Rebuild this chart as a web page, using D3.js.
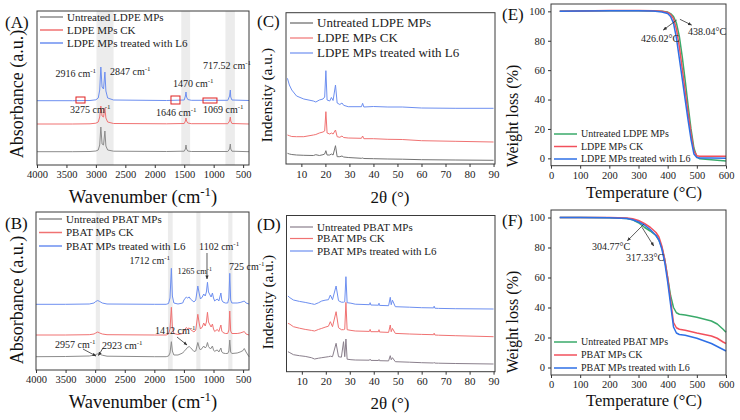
<!DOCTYPE html>
<html><head><meta charset="utf-8">
<script src="https://cdn.jsdelivr.net/npm/d3@7"></script>
<style>body{margin:0;background:#fff} svg text{font-family:"Liberation Serif",serif !important}</style>
</head><body>
<script>
// ---------------- DATA ----------------
// (A) FTIR LDPE
const ftirLdpeWn = [4000,3400,3100,3000,2960,2935,2916,2895,2870,2847,2830,2800,2700,1800,1500,1480,1470,1460,1440,1380,760,730,717,710,690,400];
const ftirLdpeUntreated = [13.3,13.3,13.5,14,15,20,38,21,20,34,19,15,13.8,13.5,13.8,16,20,16,14,13.5,13.5,16,21,16,13.8,13.3];
const ftirLdpeCK = [41,41,41.2,41.8,43,48,59,49,48,57,47,43,41.5,41.2,41.5,44,47,44,42,41.3,41.3,44,48,44,41.5,41];
const ftirLdpeL6 = [64.3,64.3,64.5,65.2,67,75,98,78,76,93,74,67,65,64.5,65,69,73,68,65.5,64.7,64.7,69,75,68,65,64.5];
const ftirLdpeBands = [[2990,2700],[1550,1400],[800,640]];
const ftirLdpeBoxes = [[3338,3185,68,62],[1725,1572,69,61],[1181,944,67,62]];
const ftirLdpeNotes = [[2998,88,"2916 ","end"],[2760,90,"2847 ","start"],[1691,78,"1470 ","start"],[1181,96,"717.52 ","start"],[3440,52,"3275 ","start"],[1979,49,"1646 ","start"],[1181,52,"1069 ","start"]];

// (B) FTIR PBAT
const ftirPbatWn = [4000,3500,3100,3020,2990,2957,2923,2880,2800,2000,1800,1760,1735,1712,1695,1670,1600,1520,1500,1460,1440,1410,1390,1330,1300,1265,1240,1220,1190,1165,1140,1120,1102,1085,1050,1040,1018,1000,980,960,935,910,875,860,840,800,760,740,725,710,690,600,550,500,480,450,400];
const ftirPbatL6 = [65.7,65.7,66,67,68.5,69.5,68.5,67,66,65.7,65.7,66.5,72,101.7,74,67,66,67,70,73,72,73,71,68,70,84,76,71,73,76,74,78,87.7,78,74,73,77,72,69,70,71,69,77,70,68,67,67,72,96.7,70,67,67,67.5,68.5,69,67,66];
const ftirPbatCK = [35,35,35.3,36,37,38,37,36,35.3,35,35,36,41,62.7,43,36.5,35.5,36.5,39,42.5,41.5,42,40.5,38,40,55.7,46,41,43,47,44,48,57.7,48,44,43,46,41,38.5,39.5,40.5,38.5,45,39,37.5,36.5,36.5,40,59,39,36.5,36.5,37,38,38.5,36,35];
const ftirPbatUntreated = [13.3,13.5,14,14.8,15.5,16.2,15.8,14.8,13.8,13.3,13.3,14,17,28.3,19,15,15,17,18.5,21,22.5,23.5,22.5,18.5,19,27.5,22,20,22,24,22,23.5,27.5,23.5,21,22,24,20,18.5,19.5,20,18,22,18,17,16.5,16.5,19,30,18,16.5,17,18,19.5,21.5,18,13.3];
const ftirPbatBands = [[2990,2920],[1770,1690],[1290,1220],[750,680]];
const ftirPbatNotes = [[1735,106.5,"1712 ","end",10],[1610,96,"1265 ","start",8.5],[1245,120,"1102 ","start",10],[738,100,"725 ","start",10],[3679,22,"2957 ","start",10],[2885,21,"2923 ","start",10],[1989,36,"1412 ","start",10]];
const ftirPbatArrows = [[1110,117,1110,91],[3206,21,2986,14],[2868,22,2944,14.5],[1617,33,1448,25]];

// (C) XRD LDPE
const xrdLdpeTheta = [4.2,5,6,8,11,15,16,17.5,19,19.7,20.2,20.7,21.8,22.5,23.2,24.2,24.9,26,26.9,27.6,29.5,35,35.5,36,40,46,52,60,74,90];
const xrdLdpeL6 = [85.7,79,74,68,65,63,62,64,65,67,93.3,64,63,66.5,63.5,79,61,59.5,61,58.7,57.3,57.3,60.7,57,57.5,57,57,56,55.7,55.7];
const xrdLdpeCK = [29,28.3,27.5,27.3,27.3,29,29.5,31,32,33,52.3,31,30,31,30,34,27.3,26.7,28,26.5,26,25.7,28,25.3,25.3,24.7,24.5,23.3,22.7,22];
const xrdLdpeUntreated = [10.7,10,9.5,9,8.7,8.5,9.3,8.5,9.3,10,13.3,9,9,10,9,18.3,7.3,7.3,8,7,6.5,5.7,6,5.5,5.3,5,4.8,4.3,4,3.7];

// (D) XRD PBAT
const xrdPbatTheta = [4.2,5,6.5,9,11.4,14,15.3,17,18.3,19.7,21.1,21.9,22.8,24.3,25.3,26.5,27.4,27.9,28.4,28.9,30.5,32.3,38.2,38.5,38.8,42,42.2,42.4,46.2,46.9,47.3,47.8,49,55,60,65,65.2,65.5,67,74,90];
const xrdPbatL6 = [75.7,74,71.7,70.3,69.3,68,67.3,69,70.7,71.5,72,76.7,72,85.7,71,69.5,69.5,70,95,69,68.5,67.5,67,69,66.7,66.5,68.5,66.3,66,74.4,67,71.5,65,64.5,64,63.8,65.5,63.5,63.3,63,62.7];
const xrdPbatCK = [48.4,47.5,45,43.5,42.3,41.3,40.7,42.3,43.3,44.5,45.5,50,45,60,44,42,42,42.5,69.4,42,41.3,40.7,40.3,42.3,40,40,42,39.7,39.3,46.7,40,43.3,38.3,37.7,37.3,37,38.5,36.7,36.5,36,35];
const xrdPbatUntreated = [20,19,17,16,15.3,14,12.7,13.5,14,14.5,15,15.5,15,28.4,15,14.5,30,15,32.7,12.5,12,11.7,11.5,12.5,11.3,11.2,12.2,11,10.8,16,12,14,10,9.5,9,8.7,9.3,8.6,8.5,8.2,7.7];

// (E) TGA LDPE
const tgaLdpeT = [30,100,200,300,350,380,400,410,420,430,440,450,460,470,480,490,500,510,550,600];
const tgaLdpeUntreated = [100,100.2,100.4,100.4,100.3,100,99.5,98.5,96.5,92,83,69,53,36,20,7,1,-0.3,-1,-1.8];
const tgaLdpeCK = [100,100.2,100.5,100.6,100.4,100,99.3,98,95,88,76,61,46,31,17,5,1.8,1.5,1.5,1.5];
const tgaLdpeL6 = [100,100.2,100.4,100.4,100.2,99.6,98.5,96.5,92,82,68,54,40,26,13,3,0.5,0.3,0.2,0];
const tgaLdpeNotes = [[431,94.1,385,87.3,"426.02°C"],[442,94.6,482,90.7,"438.04°C"]];

// (F) TGA PBAT
const tgaPbatT = [30,100,200,260,280,300,320,340,360,370,380,390,400,410,420,430,440,460,500,550,570,590,600];
const tgaPbatUntreated = [100,100,99.8,99.3,98.5,96.5,93.5,91,88,85,80,72,60,48,40,36.5,35.5,35,33.5,31,29,25.5,23.5];
const tgaPbatCK = [100,100,100,99.7,99.2,98,96,93.5,90,87,81,72,60,45,30,26.5,25.5,24.8,23,21,19.5,17,16];
const tgaPbatL6 = [100,100,99.8,99.3,98.5,97,95,92,88,85,79,70,57,42,27,23,22,21.5,19.5,16,14,12,11];
const tgaPbatNotes = [[318,95.5,262,84.5,"304.77°C"],[312,93.5,352,81,"317.33°C"]];

const ftirTicks = [4000,3500,3000,2500,2000,1500,1000,500];
const xrdTicks = [10,20,30,40,50,60,70,80,90];
const tgaXTicks = [0,100,200,300,400,500,600];
const tgaYTicks = [0,20,40,60,80,100];

// ---------------- DRAWING ----------------
const FONT = 'Liberation Serif, serif';
const svg = d3.select('body').append('svg').attr('width',740).attr('height',420)
  .attr('font-family', FONT);
svg.append('rect').attr('width',740).attr('height',420).attr('fill','#fff');
const defs = svg.append('defs');
defs.append('marker').attr('id','arr').attr('viewBox','0 0 10 10').attr('refX',9).attr('refY',5)
  .attr('markerWidth',5).attr('markerHeight',5).attr('orient','auto')
  .append('path').attr('d','M0,1 L10,5 L0,9 Z').attr('fill','#333');

const C = {fgray:'#8c8c8c', fred:'#f07272', fblue:'#6d8ff0', dgray:'#8a7f8c', cgray:'#737373',
           tgreen:'#3aaa6a', tred:'#f2505c', tblue:'#2e6fe6'};
const fmt = d3.format('d');

function panel(left,right,top,bottom,xd,yd){
  return {left,right,top,bottom,
    x:d3.scaleLinear().domain(xd).range([left,right]),
    y:d3.scaleLinear().domain(yd).range([bottom,top])};
}
function frame(p){
  svg.append('rect').attr('x',p.left).attr('y',p.top).attr('width',p.right-p.left)
    .attr('height',p.bottom-p.top).attr('fill','none').attr('stroke','#3a3a3a').attr('stroke-width',1);
}
function xAxis(p,ticks,fs){
  const g = svg.append('g').attr('transform',`translate(0,${p.bottom})`)
    .call(d3.axisBottom(p.x).tickValues(ticks).tickFormat(fmt).tickSize(3).tickSizeOuter(0).tickPadding(3));
  g.select('.domain').remove();
  g.attr('font-family',FONT).attr('font-size',fs);
  g.selectAll('text').attr('fill','#222');
  g.selectAll('line').attr('stroke','#333');
}
function yAxis(p,ticks,fs){
  const g = svg.append('g').attr('transform',`translate(${p.left},0)`)
    .call(d3.axisLeft(p.y).tickValues(ticks).tickFormat(fmt).tickSize(3).tickSizeOuter(0).tickPadding(3));
  g.select('.domain').remove();
  g.attr('font-family',FONT).attr('font-size',fs);
  g.selectAll('text').attr('fill','#222');
  g.selectAll('line').attr('stroke','#333');
}
function curve(p,xs,ys,color,w){
  const line = d3.line().x(d=>p.x(d[0])).y(d=>p.y(d[1]));
  svg.append('path').datum(d3.zip(xs,ys)).attr('d',line).attr('fill','none')
    .attr('stroke',color).attr('stroke-width',w).attr('stroke-linejoin','round');
}
function bands(p,list){
  list.forEach(b=>{
    const x0=p.x(b[0]), x1=p.x(b[1]);
    svg.append('rect').attr('x',Math.min(x0,x1)).attr('y',p.top).attr('width',Math.abs(x1-x0))
      .attr('height',p.bottom-p.top).attr('fill','#ececec');
  });
}
function legend(x,ys,items,fs,lw){
  items.forEach((it,i)=>{
    svg.append('line').attr('x1',x).attr('x2',x+23).attr('y1',ys[i]).attr('y2',ys[i])
      .attr('stroke',it[1]).attr('stroke-width',lw);
    svg.append('text').attr('x',x+27).attr('y',ys[i]).attr('dy','0.34em').attr('font-size',fs)
      .attr('fill','#222').text(it[0]);
  });
}
function cmText(t,prefix,suffix){
  t.append('tspan').text(prefix+'cm');
  t.append('tspan').attr('baseline-shift','super').attr('font-size','70%').text('-1');
  if(suffix) t.append('tspan').text(suffix);
}
function label(x,y,txt,fs,opts={}){
  const t = svg.append('text').attr('x',x).attr('y',y).attr('font-size',fs).attr('fill','#111')
    .attr('text-anchor',opts.anchor||'middle');
  if(opts.rot) t.attr('transform',`rotate(-90,${x},${y})`);
  if(opts.cm) cmText(t,txt,')'); else t.text(txt);
  return t;
}

// ---- Panel A ----
const pA = panel(37,249,11,165,[4000,400],[0,154]);
bands(pA,ftirLdpeBands);
curve(pA,ftirLdpeWn,ftirLdpeUntreated,C.fgray,1);
curve(pA,ftirLdpeWn,ftirLdpeCK,C.fred,1);
curve(pA,ftirLdpeWn,ftirLdpeL6,C.fblue,1);
frame(pA); xAxis(pA,ftirTicks,10.5);
legend(40,[17,30,43],[["Untreated LDPE MPs",C.fgray],["LDPE MPs CK",C.fred],["LDPE MPs treated with L6",C.fblue]],11,1.5);
ftirLdpeBoxes.forEach(b=>{
  svg.append('rect').attr('x',pA.x(b[0])).attr('y',pA.y(b[2])).attr('width',pA.x(b[1])-pA.x(b[0]))
    .attr('height',pA.y(b[3])-pA.y(b[2])).attr('fill','none').attr('stroke','#e02020').attr('stroke-width',1);
});
ftirLdpeNotes.forEach(n=>{
  const t = svg.append('text').attr('x',pA.x(n[0])).attr('y',pA.y(n[1])).attr('font-size',10)
    .attr('text-anchor',n[3]).attr('fill','#222');
  cmText(t,n[2]);
});
label(143,203,"Wavenumber (",18.5,{cm:true});
label(23,94,"Absorbance (a.u.)",18,{rot:true});
label(5,28,"(A)",17,{anchor:'start'});

// ---- Panel B ----
const pB = panel(36,249,212,370,[4000,400],[0,158]);
bands(pB,ftirPbatBands);
curve(pB,ftirPbatWn,ftirPbatUntreated,C.fgray,1);
curve(pB,ftirPbatWn,ftirPbatCK,C.fred,1);
curve(pB,ftirPbatWn,ftirPbatL6,C.fblue,1);
frame(pB); xAxis(pB,ftirTicks,10.5);
legend(39,[219,232.5,246],[["Untreated PBAT MPs",C.fgray],["PBAT MPs CK",C.fred],["PBAT MPs treated with L6",C.fblue]],11,1.5);
ftirPbatNotes.forEach(n=>{
  const t = svg.append('text').attr('x',pB.x(n[0])).attr('y',pB.y(n[1])).attr('font-size',n[4])
    .attr('text-anchor',n[3]).attr('fill','#222');
  cmText(t,n[2]);
});
ftirPbatArrows.forEach(a=>{
  svg.append('line').attr('x1',pB.x(a[0])).attr('y1',pB.y(a[1])).attr('x2',pB.x(a[2])).attr('y2',pB.y(a[3]))
    .attr('stroke','#333').attr('stroke-width',0.8).attr('marker-end','url(#arr)');
});
label(143,408,"Wavenumber (",18.5,{cm:true});
label(23,300,"Absorbance (a.u.)",18,{rot:true});
label(5,229,"(B)",17,{anchor:'start'});

// ---- Panel C ----
const pC = panel(286,495,12.7,164,[3.6,90.6],[0,151.3]);
curve(pC,xrdLdpeTheta,xrdLdpeUntreated,C.cgray,1);
curve(pC,xrdLdpeTheta,xrdLdpeCK,C.fred,1);
curve(pC,xrdLdpeTheta,xrdLdpeL6,C.fblue,1);
frame(pC); xAxis(pC,xrdTicks,11);
legend(290,[23,38,53],[["Untreated LDPE MPs",'#666'],["LDPE MPs CK",C.fred],["LDPE MPs treated with L6",C.fblue]],13,1.2);
label(390,203,"2θ (°)",17);
label(272,95,"Indensity (a.u.)",15.5,{rot:true});
label(257,27,"(C)",17,{anchor:'start'});

// ---- Panel D ----
const pD = panel(286.5,495,215.5,371.7,[3.6,90.6],[0,156.2]);
curve(pD,xrdPbatTheta,xrdPbatUntreated,C.dgray,1);
curve(pD,xrdPbatTheta,xrdPbatCK,C.fred,1);
curve(pD,xrdPbatTheta,xrdPbatL6,C.fblue,1);
frame(pD); xAxis(pD,xrdTicks,11);
legend(290,[227,238.5,251],[["Untreated PBAT MPs",C.dgray],["PBAT MPs CK",C.fred],["PBAT MPs treated with L6",C.fblue]],11,1.2);
label(390,409,"2θ (°)",17);
label(273,302,"Indensity (a.u.)",15.5,{rot:true});
label(257,230,"(D)",17,{anchor:'start'});

// ---- Panel E ----
const pE = panel(551,726,4,165.7,[0,600],[-5,105]);
curve(pE,tgaLdpeT,tgaLdpeUntreated,C.tgreen,1.5);
curve(pE,tgaLdpeT,tgaLdpeCK,C.tred,1.5);
curve(pE,tgaLdpeT,tgaLdpeL6,C.tblue,1.5);
frame(pE); xAxis(pE,tgaXTicks,10.5); yAxis(pE,tgaYTicks,10.5);
legend(554,[134,146.5,159],[["Untreated LDPE MPs",C.tgreen],["LDPE MPs CK",C.tred],["LDPE MPs treated with L6",C.tblue]],10,1.5);
tgaLdpeNotes.forEach(n=>{
  svg.append('line').attr('x1',pE.x(n[0])).attr('y1',pE.y(n[1])).attr('x2',pE.x(n[2])).attr('y2',pE.y(n[3]))
    .attr('stroke','#333').attr('stroke-width',0.8).attr('marker-end','url(#arr)');
});
svg.append('text').attr('x',660).attr('y',42).attr('font-size',10).attr('text-anchor','middle').attr('fill','#222').text(tgaLdpeNotes[0][4]);
svg.append('text').attr('x',707).attr('y',35).attr('font-size',10).attr('text-anchor','middle').attr('fill','#222').text(tgaLdpeNotes[1][4]);
label(644,198,"Temperature (°C)",16.5);
label(518,116,"Weight loss (%)",16,{rot:true});
label(502,20,"(E)",17,{anchor:'start'});

// ---- Panel F ----
const pF = panel(551,726,210,375,[0,600],[-5,105]);
curve(pF,tgaPbatT,tgaPbatUntreated,C.tgreen,1.5);
curve(pF,tgaPbatT,tgaPbatCK,C.tred,1.5);
curve(pF,tgaPbatT,tgaPbatL6,C.tblue,1.5);
frame(pF); xAxis(pF,tgaXTicks,10.5); yAxis(pF,tgaYTicks,10.5);
legend(554,[342,355,368],[["Untreated PBAT MPs",C.tgreen],["PBAT MPs CK",C.tred],["PBAT MPs treated with L6",C.tblue]],10,1.5);
tgaPbatNotes.forEach(n=>{
  svg.append('line').attr('x1',pF.x(n[0])).attr('y1',pF.y(n[1])).attr('x2',pF.x(n[2])).attr('y2',pF.y(n[3]))
    .attr('stroke','#333').attr('stroke-width',0.8).attr('marker-end','url(#arr)');
});
svg.append('text').attr('x',611).attr('y',250).attr('font-size',10).attr('text-anchor','middle').attr('fill','#222').text(tgaPbatNotes[0][4]);
svg.append('text').attr('x',645).attr('y',261).attr('font-size',10).attr('text-anchor','middle').attr('fill','#222').text(tgaPbatNotes[1][4]);
label(644,406,"Temperature (°C)",16.5);
label(518,322,"Weight loss (%)",16,{rot:true});
label(502,226,"(F)",17,{anchor:'start'});
</script>
</body></html>
